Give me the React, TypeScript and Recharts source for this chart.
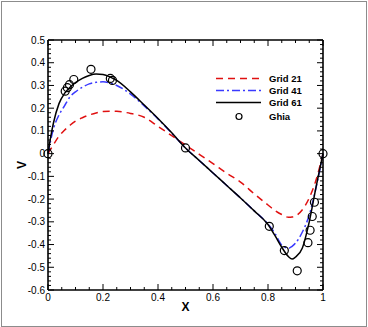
import { ComposedChart, Line, Scatter, XAxis, YAxis, Legend, Label } from "recharts";

// sample positions along the horizontal centreline
const X_POS = [0, 0.01, 0.02, 0.04, 0.06, 0.08, 0.1, 0.125, 0.15, 0.175, 0.2, 0.225, 0.25, 0.3, 0.35, 0.4, 0.45, 0.5, 0.55, 0.6, 0.65, 0.7, 0.75, 0.8, 0.825, 0.85, 0.875, 0.8875, 0.9, 0.925, 0.95, 0.975, 1];

const GRID21 = [0, 0.02, 0.04, 0.077, 0.103, 0.125, 0.143, 0.158, 0.17, 0.179, 0.185, 0.187, 0.186, 0.177, 0.16, 0.12, 0.079, 0.038, -0.003, -0.044, -0.086, -0.125, -0.177, -0.226, -0.25, -0.268, -0.28, -0.279, -0.274, -0.247, -0.195, -0.115, 0];
const GRID41 = [0, 0.06, 0.11, 0.17, 0.21, 0.25, 0.272, 0.292, 0.307, 0.314, 0.316, 0.311, 0.3, 0.262, 0.21, 0.153, 0.09, 0.025, -0.03, -0.085, -0.14, -0.195, -0.252, -0.31, -0.35, -0.402, -0.416, -0.408, -0.394, -0.345, -0.27, -0.148, 0];
const GRID61 = [0, 0.075, 0.136, 0.22, 0.265, 0.292, 0.312, 0.331, 0.344, 0.35, 0.348, 0.338, 0.322, 0.272, 0.214, 0.155, 0.092, 0.025, -0.03, -0.085, -0.14, -0.195, -0.252, -0.312, -0.36, -0.412, -0.454, -0.464, -0.455, -0.415, -0.3, -0.145, 0];

// Ghia et al. reference points
const GHIA_X = [0, 0.0625, 0.0703, 0.0781, 0.0938, 0.1563, 0.2266, 0.2344, 0.5, 0.8047, 0.8594, 0.9063, 0.9453, 0.9531, 0.9609, 0.9688, 1];
const GHIA_V = [0, 0.27485, 0.29012, 0.30353, 0.32627, 0.37095, 0.33075, 0.32235, 0.02526, -0.31966, -0.42665, -0.5155, -0.39188, -0.33714, -0.27669, -0.21388, 0];

const X_TICKS = Array.from({ length: 21 }, (_, i) => Math.round(i * 5) / 100);
const Y_TICKS = Array.from({ length: 56 }, (_, i) => Math.round(-60 + i * 2) / 100);

const FONT = "'Liberation Sans', Arial, Helvetica, sans-serif";

const series = [
  { name: "Grid 21", values: GRID21, color: "#e01010", dash: "7 5" },
  { name: "Grid 41", values: GRID41, color: "#3a3aff", dash: "8 3 2 3" },
  { name: "Grid 61", values: GRID61, color: "#000000", dash: undefined },
];

const ghia = GHIA_X.map((x, i) => ({ x, v: GHIA_V[i] }));

const isMajor = (v: number, step: number) => Math.abs(Math.round(v / step) - v / step) < 1e-6;
const fmt = (v: number) => (v === 0 ? "0" : v === 1 ? "1" : v.toFixed(1));

function BottomTick(props: any) {
  const { x, y, payload } = props;
  const major = isMajor(payload.value, 0.2);
  return (
    <g>
      <line x1={x} y1={y} x2={x} y2={y - (major ? 6 : 3)} stroke="#000" strokeWidth={1} />
      {major && (
        <text x={x} y={y + 11} textAnchor="middle" fontSize={10} fontFamily={FONT} fill="#000">
          {fmt(payload.value)}
        </text>
      )}
    </g>
  );
}

function TopTick(props: any) {
  const { x, y, payload } = props;
  const major = isMajor(payload.value, 0.2);
  return <line x1={x} y1={y} x2={x} y2={y + (major ? 6 : 3)} stroke="#000" strokeWidth={1} />;
}

function LeftTick(props: any) {
  const { x, y, payload } = props;
  const major = isMajor(payload.value, 0.1);
  return (
    <g>
      <line x1={x} y1={y} x2={x + (major ? 6 : 3)} y2={y} stroke="#000" strokeWidth={1} />
      {major && (
        <text x={x - 3} y={y} dy="0.35em" textAnchor="end" fontSize={10} fontFamily={FONT} fill="#000">
          {fmt(payload.value)}
        </text>
      )}
    </g>
  );
}

function RightTick(props: any) {
  const { x, y, payload } = props;
  const major = isMajor(payload.value, 0.1);
  return <line x1={x} y1={y} x2={x - (major ? 6 : 3)} y2={y} stroke="#000" strokeWidth={1} />;
}

function LegendBox() {
  return (
    <svg width={120} height={56} style={{ display: "block" }}>
      {series.map((s, i) => (
        <g key={s.name}>
          <line x1={6} x2={51} y1={8.5 + i * 12} y2={8.5 + i * 12} stroke={s.color} strokeWidth={1.5} strokeDasharray={s.dash} />
          <text x={59} y={8.5 + i * 12} dy="0.35em" fontSize={9.5} fontWeight="bold" fontFamily={FONT} fill="#000">
            {s.name}
          </text>
        </g>
      ))}
      <circle cx={29} cy={46.5} r={3} fill="none" stroke="#000" strokeWidth={1.2} />
      <text x={59} y={46.5} dy="0.35em" fontSize={9.5} fontWeight="bold" fontFamily={FONT} fill="#000">
        Ghia
      </text>
    </svg>
  );
}

const axisLine = { stroke: "#000", strokeWidth: 1.6 };

export default function App() {
  return (
    <div style={{ position: "absolute", left: 0, top: 0, width: 368, height: 327, background: "#fff" }}>
      <div
        style={{
          position: "absolute",
          left: 1,
          top: 1,
          width: 366,
          height: 326,
          boxSizing: "border-box",
          border: "1px solid #8c8c8c",
        }}
      />
      <div style={{ position: "absolute", left: 0, top: 0 }}>
        <ComposedChart width={368} height={327} margin={{ top: 20, right: 25, bottom: 7, left: 8 }}>
          <XAxis
            xAxisId="b"
            type="number"
            dataKey="x"
            domain={[0, 1]}
            ticks={X_TICKS}
            interval={0}
            tickLine={false}
            tickSize={0}
            tickMargin={0}
            axisLine={axisLine}
            tick={BottomTick}
            height={30}
          >
            <Label
              content={(p: any) => (
                <text
                  x={p.viewBox.x + p.viewBox.width / 2}
                  y={p.viewBox.y + 21}
                  textAnchor="middle"
                  fontSize={12}
                  fontWeight="bold"
                  fontFamily={FONT}
                  fill="#000"
                >
                  X
                </text>
              )}
            />
          </XAxis>
          <XAxis
            xAxisId="t"
            orientation="top"
            type="number"
            dataKey="x"
            domain={[0, 1]}
            allowDataOverflow
            ticks={X_TICKS}
            interval={0}
            tickLine={false}
            tickSize={0}
            tickMargin={0}
            axisLine={axisLine}
            tick={TopTick}
            height={20}
          />
          <YAxis
            yAxisId="l"
            type="number"
            dataKey="v"
            domain={[-0.6, 0.5]}
            ticks={Y_TICKS}
            interval={0}
            tickLine={false}
            tickSize={0}
            tickMargin={0}
            axisLine={axisLine}
            tick={LeftTick}
            width={40}
          >
            <Label
              content={(p: any) => {
                const cx = p.viewBox.x + 13.5;
                const cy = p.viewBox.y + p.viewBox.height / 2;
                return (
                  <text
                    x={cx}
                    y={cy}
                    dy="0.35em"
                    transform={`rotate(-90 ${cx} ${cy})`}
                    textAnchor="middle"
                    fontSize={12}
                    fontWeight="bold"
                    fontFamily={FONT}
                    fill="#000"
                  >
                    V
                  </text>
                );
              }}
            />
          </YAxis>
          <YAxis
            yAxisId="r"
            orientation="right"
            type="number"
            dataKey="v"
            domain={[-0.6, 0.5]}
            allowDataOverflow
            ticks={Y_TICKS}
            interval={0}
            tickLine={false}
            tickSize={0}
            tickMargin={0}
            axisLine={axisLine}
            tick={RightTick}
            width={20}
          />
          {series.map((s) => (
            <Line
              key={s.name}
              xAxisId="b"
              yAxisId="l"
              name={s.name}
              data={X_POS.map((x, i) => ({ x, v: s.values[i] }))}
              dataKey="v"
              type="monotone"
              stroke={s.color}
              strokeWidth={1.5}
              strokeDasharray={s.dash}
              dot={false}
              activeDot={false}
              isAnimationActive={false}
            />
          ))}
          <Scatter
            xAxisId="b"
            yAxisId="l"
            name="Ghia"
            data={ghia}
            dataKey="v"
            isAnimationActive={false}
            shape={(p: any) => <circle cx={p.cx} cy={p.cy} r={4} fill="none" stroke="#000" strokeWidth={1.2} />}
          />
          <Legend
            layout="vertical"
            align="center"
            verticalAlign="middle"
            wrapperStyle={{ left: 210, top: 70, width: 120, height: 56 }}
            content={() => <LegendBox />}
          />
        </ComposedChart>
      </div>
    </div>
  );
}
